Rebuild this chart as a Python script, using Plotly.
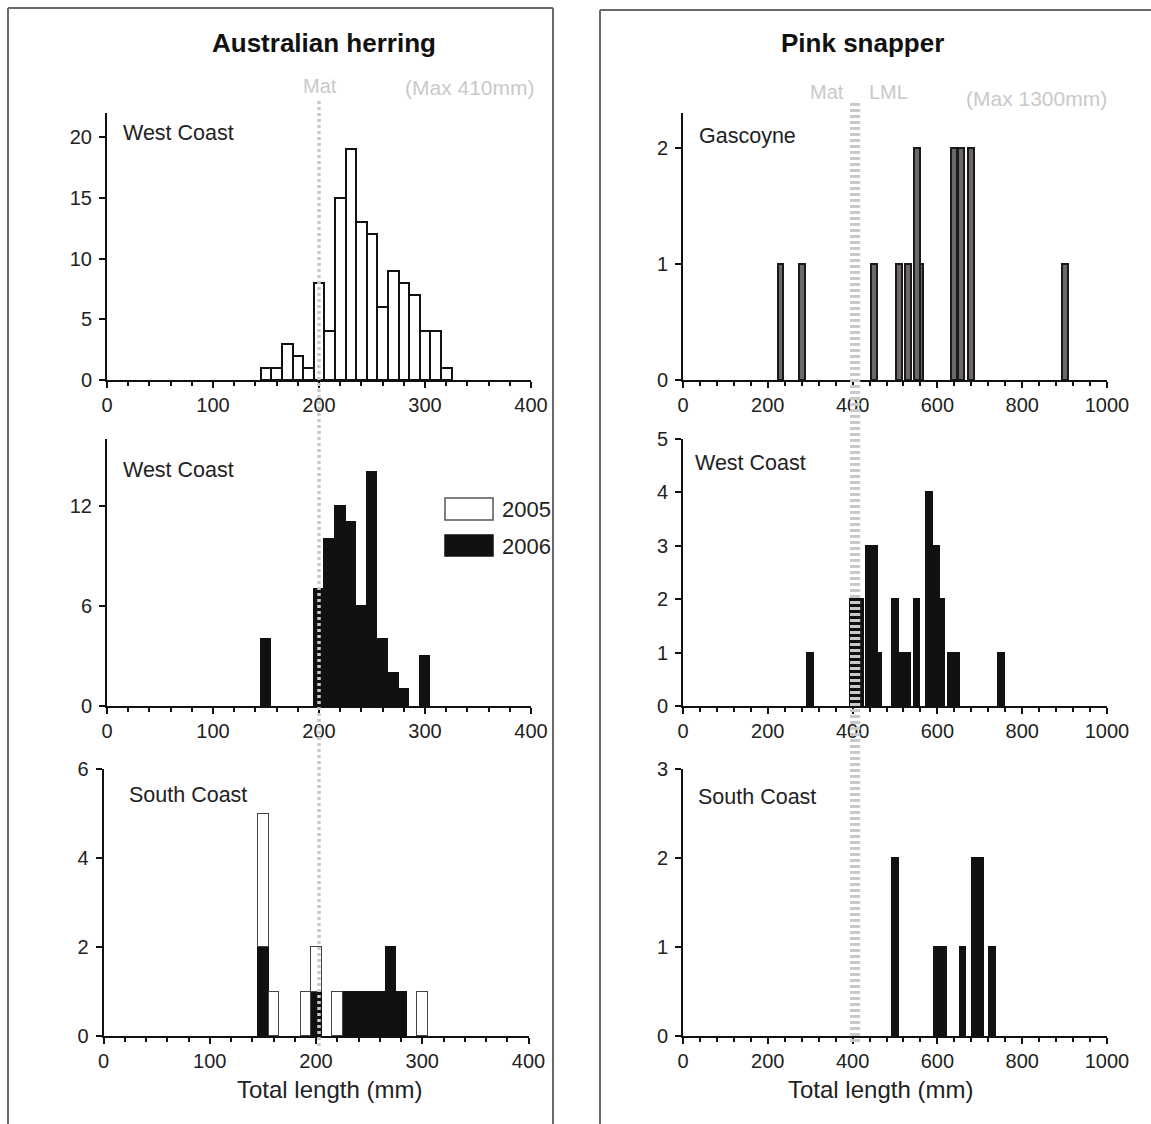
import plotly.graph_objects as go
from plotly.subplots import make_subplots

W, H = 1151, 1124
FONT = "Liberation Sans, Arial, sans-serif"

# ---------------- Australian herring (10 mm length classes, centres) ----------------
herring_wc_len = [150, 160, 170, 180, 190, 200, 210, 220, 230, 240, 250, 260, 270, 280, 290, 300, 310, 320]
herring_wc_2005 = [1, 1, 3, 2, 1, 8, 4, 15, 19, 13, 12, 6, 9, 8, 7, 4, 4, 1]

herring_wc2_len = [150, 200, 210, 220, 230, 240, 250, 260, 270, 280, 300]
herring_wc2_2006 = [4, 7, 10, 12, 11, 6, 14, 4, 2, 1, 3]

herring_sc_len_2006 = [150, 200, 230, 240, 250, 260, 270, 280]
herring_sc_2006 = [2, 1, 1, 1, 1, 1, 2, 1]
herring_sc_len_2005 = [150, 160, 190, 200, 220, 300]
herring_sc_2005 = [3, 1, 1, 1, 1, 1]

# ---------------- Pink snapper ----------------
snap_gas_len = [230, 280, 450, 510, 530, 560, 551, 640, 655, 680, 900]
snap_gas_n = [1, 1, 1, 1, 1, 1, 2, 2, 2, 2, 1]

snap_wc_len = [301, 402, 420, 440, 453, 463, 501, 517, 531, 552, 581, 611, 599, 633, 645, 751]
snap_wc_n = [1, 2, 2, 3, 3, 1, 2, 1, 1, 2, 4, 2, 3, 1, 1, 1]

snap_sc_len = [501, 600, 614, 660, 690, 703, 730]
snap_sc_n = [2, 1, 1, 1, 2, 2, 1]

# reference lengths
herring_mat = 200
snapper_mat = 400
snapper_lml = 410

fig = make_subplots(rows=3, cols=2)

WHITE = "white"
BLACK = "#111111"
GREY_BAR = "#6e6868"

# left column
fig.add_trace(go.Bar(x=herring_wc_len, y=herring_wc_2005, width=10, name="2005",
                     marker=dict(color=WHITE, line=dict(color=BLACK, width=2))), row=1, col=1)
fig.add_trace(go.Bar(x=herring_wc2_len, y=herring_wc2_2006, width=10, name="2006",
                     marker=dict(color=BLACK, line=dict(color=BLACK, width=1))), row=2, col=1)
fig.add_trace(go.Bar(x=herring_sc_len_2006, y=herring_sc_2006, width=10, name="2006",
                     marker=dict(color=BLACK, line=dict(color=BLACK, width=1))), row=3, col=1)
fig.add_trace(go.Bar(x=herring_sc_len_2005, y=herring_sc_2005, width=10, name="2005",
                     marker=dict(color=WHITE, line=dict(color="#444444", width=1))), row=3, col=1)

# right column
fig.add_trace(go.Bar(x=snap_gas_len, y=snap_gas_n, width=14,
                     marker=dict(color=GREY_BAR, line=dict(color="#1a1a1a", width=2))), row=1, col=2)
fig.add_trace(go.Bar(x=snap_wc_len, y=snap_wc_n, width=15,
                     marker=dict(color=BLACK, line=dict(color=BLACK, width=1))), row=2, col=2)
fig.add_trace(go.Bar(x=snap_sc_len, y=snap_sc_n, width=15,
                     marker=dict(color=BLACK, line=dict(color=BLACK, width=1))), row=3, col=2)

fig.update_traces(showlegend=False, hoverinfo="x+y")


def py(p):
    return 1 - p / H


def px(p):
    return p / W


rows_px = [(113, 380), (439, 706), (769, 1036)]
left_px = [(107, 531), (107, 531), (103.5, 528.5)]
right_px = (683, 1107)

tickfont = dict(family=FONT, size=20, color="#222222")
axis_common = dict(showline=True, linecolor=BLACK, linewidth=2, ticks="outside",
                   ticklen=6, tickwidth=2, tickcolor=BLACK, showgrid=False,
                   zeroline=False, tickfont=tickfont, automargin=False)

y_ranges_left = [[0, 22], [0, 16], [0, 6]]
y_ticks_left = [[0, 5, 10, 15, 20], [0, 6, 12], [0, 2, 4, 6]]
y_ranges_right = [[0, 2.3], [0, 5], [0, 3]]
y_ticks_right = [[0, 1, 2], [0, 1, 2, 3, 4, 5], [0, 1, 2, 3]]

layout_axes = {}
for r in range(3):
    idx_l = 2 * r + 1
    idx_r = 2 * r + 2
    kx_l = "xaxis" if idx_l == 1 else f"xaxis{idx_l}"
    ky_l = "yaxis" if idx_l == 1 else f"yaxis{idx_l}"
    kx_r = f"xaxis{idx_r}"
    ky_r = f"yaxis{idx_r}"
    b, t = rows_px[r][1], rows_px[r][0]
    ydom = [py(b), py(t)]
    lx = left_px[r]
    layout_axes[kx_l] = dict(axis_common, domain=[px(lx[0]), px(lx[1])], range=[0, 400],
                             tickvals=[0, 100, 200, 300, 400],
                             minor=dict(ticks="outside", ticklen=4, tickwidth=1.5,
                                        tickcolor=BLACK, dtick=20, tick0=0))
    layout_axes[ky_l] = dict(axis_common, domain=ydom, range=y_ranges_left[r],
                             tickvals=y_ticks_left[r], ticklabelstandoff=3)
    layout_axes[kx_r] = dict(axis_common, domain=[px(right_px[0]), px(right_px[1])], range=[0, 1000],
                             tickvals=[0, 200, 400, 600, 800, 1000],
                             minor=dict(ticks="outside", ticklen=4, tickwidth=1.5,
                                        tickcolor=BLACK, dtick=40, tick0=0))
    layout_axes[ky_r] = dict(axis_common, domain=ydom, range=y_ranges_right[r],
                             tickvals=y_ticks_right[r], ticklabelstandoff=3)

fig.update_layout(**layout_axes)

# ---------------- shapes ----------------
shapes = []
# panel frames (open at the bottom, like the source)
FRAME = "#6a6a6a"
fl = dict(color=FRAME, width=2)
for (x0, y0, x1, y1) in [(8, 8, 553, 8), (8, 8, 8, H), (553, 8, 553, H),
                         (600, 10, W, 10), (600, 10, 600, H)]:
    shapes.append(dict(type="line", xref="paper", yref="paper", x0=px(x0), x1=px(x1),
                       y0=py(y0), y1=py(y1), line=fl, layer="below"))

MATC = "#c9c9c9"
# herring maturity line (spans all three panels)
shapes.append(dict(type="line", xref="x", yref="paper", x0=herring_mat, x1=herring_mat,
                   y0=py(1046), y1=py(99), line=dict(color=MATC, width=3.5, dash="3px,3px")))
# snapper maturity and LML lines
for v in (snapper_mat, snapper_lml):
    shapes.append(dict(type="line", xref="x2", yref="paper", x0=v + 1, x1=v + 1,
                       y0=py(1042), y1=py(103), line=dict(color=MATC, width=6, dash="3px,3px")))

# legend boxes (middle-left panel)
shapes.append(dict(type="rect", xref="paper", yref="paper", x0=px(445), x1=px(493),
                   y0=py(520), y1=py(498), line=dict(color="#555555", width=1.5), fillcolor="white"))
shapes.append(dict(type="rect", xref="paper", yref="paper", x0=px(445), x1=px(493),
                   y0=py(556), y1=py(535), line=dict(color=BLACK, width=1.5), fillcolor=BLACK))
fig.update_layout(shapes=shapes)

# ---------------- annotations ----------------
ann = []


def add_text(text, x, y, size, color="#222222", xanchor="center", bold=False):
    ann.append(dict(text=f"<b>{text}</b>" if bold else text, xref="paper", yref="paper",
                    x=px(x), y=py(y), xanchor=xanchor, yanchor="middle", showarrow=False,
                    font=dict(family=FONT, size=size, color=color)))


add_text("Australian herring", 324, 43, 26, "#111111", bold=True)
add_text("Pink snapper", 862, 43, 26, "#111111", bold=True)
add_text("Mat", 320, 86, 20, MATC)
add_text("(Max 410mm)", 470, 88, 21, MATC)
add_text("Mat", 827, 92, 20, MATC)
add_text("LML", 888, 92, 20, MATC)
add_text("(Max 1300mm)", 1036, 98, 21, MATC)

add_text("West Coast", 121, 133, 21.5, xanchor="left")
add_text("West Coast", 121, 470, 21.5, xanchor="left")
add_text("South Coast", 127, 795, 21.5, xanchor="left")
add_text("Gascoyne", 697, 136, 21.5, xanchor="left")
add_text("West Coast", 693, 463, 21.5, xanchor="left")
add_text("South Coast", 696, 797, 21.5, xanchor="left")

add_text("2005", 500, 509, 22, xanchor="left")
add_text("2006", 500, 546, 22, xanchor="left")

# x-axis titles
add_text("Total length (mm)", 330, 1089, 24)
add_text("Total length (mm)", 880, 1089, 24)

fig.update_layout(
    annotations=ann,
    width=W, height=H,
    margin=dict(l=0, r=0, t=0, b=0, pad=0, autoexpand=False),
    paper_bgcolor="white", plot_bgcolor="white",
    barmode="stack", bargap=0,
    showlegend=False,
    font=dict(family=FONT, color="#222222"),
)

fig.write_html("out.html")
